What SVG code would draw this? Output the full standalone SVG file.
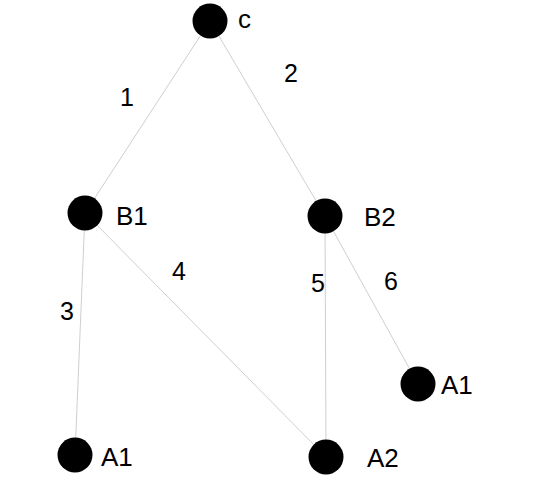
<svg xmlns="http://www.w3.org/2000/svg" width="535" height="492" viewBox="0 0 535 492">
<style>
.node{fill:#000}
.lbl{font-family:"Liberation Sans",Arial,sans-serif;font-size:26px;fill:#000}
.el{font-family:"Liberation Sans",Arial,sans-serif;font-size:25px;fill:#000}
.edge{stroke:#cfcfcf;stroke-width:1;fill:none}
</style>
<rect width="535" height="492" fill="#fff"/>
<g id="connectors">
<line class="edge" x1="210" y1="21" x2="85" y2="213"/>
<line class="edge" x1="210" y1="21" x2="325" y2="216"/>
<line class="edge" x1="85" y1="213" x2="75" y2="455"/>
<line class="edge" x1="85" y1="213" x2="326" y2="457"/>
<line class="edge" x1="325" y1="216" x2="326" y2="457"/>
<line class="edge" x1="325" y1="216" x2="418" y2="384"/>
<text class="el" x="120" y="106">1</text>
<text class="el" x="284" y="82">2</text>
<text class="el" x="60" y="320">3</text>
<text class="el" x="172" y="280">4</text>
<text class="el" x="311" y="292">5</text>
<text class="el" x="384" y="290">6</text>
</g>
<g id="c"><circle class="node" cx="210" cy="21" r="17.5"/><text class="lbl" x="238" y="28">c</text></g>
<g id="B1"><circle class="node" cx="85" cy="213" r="17.5"/><text class="lbl" x="116" y="225">B1</text></g>
<g id="B2"><circle class="node" cx="325" cy="216" r="17.5"/><text class="lbl" x="364" y="226">B2</text></g>
<g id="A1left"><circle class="node" cx="75" cy="455" r="17.5"/><text class="lbl" x="101" y="466">A1</text></g>
<g id="A2"><circle class="node" cx="326" cy="457" r="17.5"/><text class="lbl" x="367" y="467">A2</text></g>
<g id="A1right"><circle class="node" cx="418" cy="384" r="17.5"/><text class="lbl" x="441" y="394">A1</text></g>
</svg>
